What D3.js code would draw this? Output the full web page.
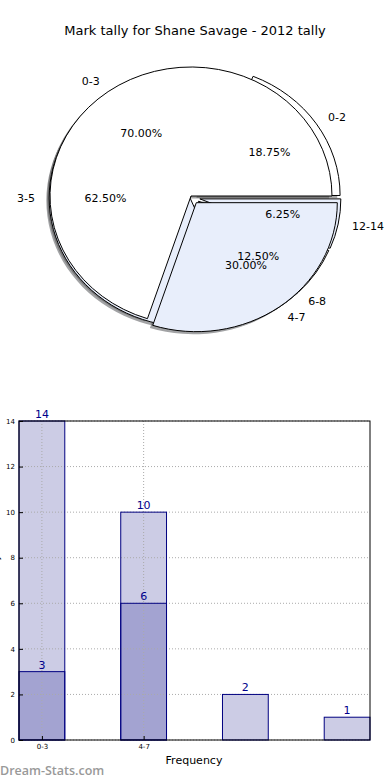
<!DOCTYPE html>
<html>
<head>
<meta charset="utf-8">
<script src="https://cdn.jsdelivr.net/npm/d3@7"></script>
<style>
body { margin: 0; background: #fff; }
text { font-family: "DejaVu Sans", sans-serif; }
</style>
</head>
<body>
<svg id="chart" width="390" height="780"></svg>
<script>
// pie 1 : ranges + share (%)
var rangeA = ["0-3", "4-7"];
var pctA = [70, 30];
// pie 2
var rangeB = ["0-2", "3-5", "6-8", "12-14"];
var pctB = [18.75, 62.5, 12.5, 6.25];

// bar chart
var barCats = ["0-3", "4-7", "", ""];
var barTotal = [14, 10, 2, 1];
var barPart = [3, 6, 0, 0];
var yTicks = [0, 2, 4, 6, 8, 10, 12, 14];

var svg = d3.select("#chart");
var pieCols = ["#ffffff", "#e8eefb"];
var rx = 141, ry = 129;

svg.append("text")
    .attr("x", 195).attr("y", 35)
    .attr("text-anchor", "middle")
    .style("font-size", "13px")
    .text("Mark tally for Shane Savage - 2012 tally");

// 0 deg = east, counterclockwise like matplotlib
var pie = d3.pie().sort(null).startAngle(Math.PI / 2).endAngle(Math.PI / 2 - 2 * Math.PI);
var arc = d3.arc().innerRadius(0).outerRadius(1);

function pieSlices(names, vals, cx, cy, explode) {
    return pie(vals).map((d, i) => {
        let a = (d.startAngle + d.endAngle) / 2;
        let dx = Math.sin(a), dy = -Math.cos(a);
        let ex = explode[i];
        return {
            arc: d, name: names[i], pct: vals[i], dx: dx, dy: dy,
            x: cx + dx * ex * rx, y: cy + dy * ex * ry,
            col: pieCols[i % 2]
        };
    });
}

var slB = pieSlices(rangeB, pctB, 195, 198, [0.035, 0.035, 0.035, 0.035]);
var slA = pieSlices(rangeA, pctA, 191, 196, [0, 0.064]);
var all = slB.concat(slA);

var gPie = svg.append("g");

// shadows below everything
gPie.selectAll("path.shadow")
    .data(all)
    .join("path")
    .attr("class", "shadow")
    .attr("d", d => arc(d.arc))
    .attr("transform", d => `translate(${d.x - 0.02 * rx},${d.y + 0.02 * ry}) scale(${rx},${ry})`)
    .style("fill", d => { let c = d3.rgb(d.col); return d3.rgb(c.r * 0.3, c.g * 0.3, c.b * 0.3); })
    .style("fill-opacity", 0.5)
    .style("stroke", "none");

gPie.selectAll("path.wedge")
    .data(all)
    .join("path")
    .attr("class", "wedge")
    .attr("d", d => arc(d.arc))
    .attr("transform", d => `translate(${d.x},${d.y}) scale(${rx},${ry})`)
    .attr("vector-effect", "non-scaling-stroke")
    .style("fill", d => d.col)
    .style("stroke", "#000")
    .style("stroke-width", 1)
    .style("stroke-linejoin", "round");

gPie.selectAll("text.lab")
    .data(all)
    .join("text")
    .attr("class", "lab")
    .attr("x", d => d.x + d.dx * 1.1 * rx)
    .attr("y", d => d.y + d.dy * 1.1 * ry)
    .attr("dy", "0.35em")
    .attr("text-anchor", d => d.dx > 0 ? "start" : "end")
    .style("font-size", "11px")
    .text(d => d.name);

gPie.selectAll("text.pct")
    .data(all)
    .join("text")
    .attr("class", "pct")
    .attr("x", d => d.x + d.dx * 0.6 * rx)
    .attr("y", d => d.y + d.dy * 0.6 * ry)
    .attr("dy", "0.35em")
    .attr("text-anchor", "middle")
    .style("font-size", "11px")
    .text(d => d.pct.toFixed(2) + "%");

// ---- bar chart ----
var barW = 0.45;
var x = d3.scaleLinear().domain([0, barCats.length - 1 + barW]).range([19, 370]);
var y = d3.scaleLinear().domain([0, 14]).range([740, 421]);
var gBar = svg.append("g");

function drawBars(vals, cls, fill) {
    return gBar.selectAll("rect." + cls)
        .data(vals.map((v, i) => ({ v: v, i: i })).filter(d => d.v > 0))
        .join("rect")
        .attr("class", cls)
        .attr("x", d => x(d.i))
        .attr("width", x(barW) - x(0))
        .attr("y", d => y(d.v))
        .attr("height", d => y(0) - y(d.v))
        .style("fill", fill)
        .style("stroke", "none");
}
drawBars(barTotal, "total", "#ccccE5");
drawBars(barPart, "part", "#a3a3d1");

// grid
var tickPos = barCats.map((c, i) => i + barW / 2).filter((p, i) => barCats[i] !== "");
gBar.selectAll("line.hgrid")
    .data(yTicks)
    .join("line")
    .attr("class", "hgrid")
    .attr("x1", x.range()[0]).attr("x2", x.range()[1])
    .attr("y1", d => y(d)).attr("y2", d => y(d))
    .style("stroke", "#aaaaaa").style("stroke-dasharray", "1,2");
gBar.selectAll("line.vgrid")
    .data(tickPos)
    .join("line")
    .attr("class", "vgrid")
    .attr("x1", d => x(d)).attr("x2", d => x(d))
    .attr("y1", y.range()[0]).attr("y2", y.range()[1])
    .style("stroke", "#aaaaaa").style("stroke-dasharray", "1,2");

// bar outlines on top of the grid
drawBars(barTotal, "totalEdge", "none").style("stroke", "#000080").style("stroke-width", 1);
drawBars(barPart, "partEdge", "none").style("stroke", "#000080").style("stroke-width", 1);

// value labels
function valLabels(vals, cls) {
    gBar.selectAll("text." + cls)
        .data(vals.map((v, i) => ({ v: v, i: i })).filter(d => d.v > 0))
        .join("text")
        .attr("class", cls)
        .attr("x", d => x(d.i + barW / 2))
        .attr("y", d => y(d.v) - 3)
        .attr("text-anchor", "middle")
        .style("font-size", "11px")
        .style("fill", "#00008b")
        .text(d => d.v);
}
valLabels(barTotal, "vt");
valLabels(barPart, "vp");

// axes
var yAxis = d3.axisLeft(y).tickValues(yTicks).tickSize(-4).tickPadding(4).tickFormat(d3.format("d"));
var yG = gBar.append("g").attr("transform", `translate(${x.range()[0]},0)`).call(yAxis);
var xAxis = d3.axisBottom(x).tickValues(tickPos).tickSize(-4).tickPadding(4)
    .tickFormat(d => barCats[Math.round(d - barW / 2)]);
var xG = gBar.append("g").attr("transform", `translate(0,${y.range()[0]})`).call(xAxis);
[yG, xG].forEach(g => {
    g.select(".domain").remove();
    g.selectAll("text").style("font-size", "7px").style("font-family", "DejaVu Sans, sans-serif").attr("fill", "#000");
    g.selectAll("line").attr("stroke", "#000");
});

gBar.append("rect")
    .attr("x", x.range()[0]).attr("y", y.range()[1])
    .attr("width", x.range()[1] - x.range()[0])
    .attr("height", y.range()[0] - y.range()[1])
    .style("fill", "none").style("stroke", "#000").style("stroke-width", 1);

svg.append("text")
    .attr("x", 194).attr("y", 764)
    .attr("text-anchor", "middle")
    .style("font-size", "11px")
    .text("Frequency");

svg.append("text")
    .attr("transform", "translate(-1,580) rotate(-90)")
    .attr("text-anchor", "middle")
    .style("font-size", "9px")
    .text("Marks Tally");

svg.append("text")
    .attr("x", 0).attr("y", 775)
    .style("font-size", "12.5px")
    .style("font-family", "Open Sans, sans-serif")
    .style("font-weight", "600")
    .style("fill", "#999999")
    .text("Dream-Stats.com");
</script>
</body>
</html>
